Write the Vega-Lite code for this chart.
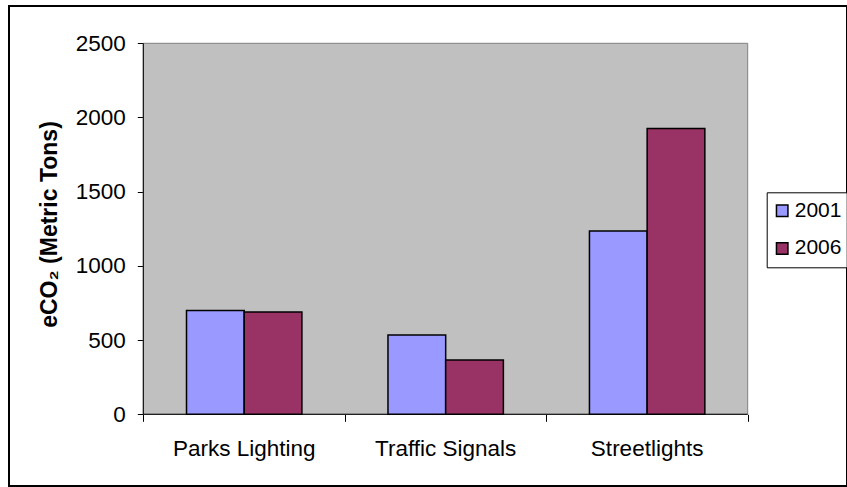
{
  "$schema": "https://vega.github.io/schema/vega-lite/v6.json",
  "width": 838,
  "height": 480,
  "autosize": {"type": "none"},
  "padding": {"left": 9, "top": 6, "right": 0, "bottom": 1},
  "background": "white",
  "config": {
    "view": {"stroke": "#000000", "strokeWidth": 2, "fill": "white"},
    "font": "Liberation Sans",
    "axis": {
      "grid": false,
      "domain": false,
      "labelFont": "Liberation Sans",
      "labelFontSize": 22.5,
      "labelColor": "#000000",
      "tickColor": "#000000",
      "tickWidth": 1,
      "titleFont": "Liberation Sans",
      "titleColor": "#000000"
    },
    "legend": {
      "labelFont": "Liberation Sans",
      "labelFontSize": 21,
      "labelColor": "#000000"
    }
  },
  "layer": [
    {
      "data": {"values": [{}]},
      "layer": [
        {
          "mark": {"type": "rect", "fill": "#C0C0C0", "stroke": "#808080", "strokeWidth": 1},
          "encoding": {
            "x": {
              "datum": 0,
              "type": "quantitative",
              "scale": {"domain": [-0.6666, 3.4929], "nice": false, "zero": false},
              "axis": {
                "orient": "bottom",
                "offset": -71.7,
                "values": [0, 1, 2, 3],
                "labels": false,
                "ticks": true,
                "tickSize": 7,
                "title": null
              }
            },
            "x2": {"datum": 3},
            "y": {
              "datum": 0,
              "type": "quantitative",
              "scale": {"domain": [-483.2, 2751.3], "nice": false, "zero": false}
            },
            "y2": {"datum": 2500}
          }
        },
        {
          "mark": {"type": "rule", "color": "#000000", "strokeWidth": 1},
          "encoding": {
            "x": {"datum": 0, "type": "quantitative"},
            "y": {"datum": 0, "type": "quantitative"},
            "y2": {"datum": 2500}
          }
        },
        {
          "mark": {"type": "rule", "color": "#000000", "strokeWidth": 1},
          "encoding": {
            "x": {"datum": 0, "type": "quantitative"},
            "x2": {"datum": 3},
            "y": {"datum": 0, "type": "quantitative"}
          }
        }
      ]
    },
    {
      "data": {
        "values": [
          {"category": "Parks Lighting", "year": "2001", "value": 700},
          {"category": "Parks Lighting", "year": "2006", "value": 690},
          {"category": "Traffic Signals", "year": "2001", "value": 535},
          {"category": "Traffic Signals", "year": "2006", "value": 366},
          {"category": "Streetlights", "year": "2001", "value": 1235},
          {"category": "Streetlights", "year": "2006", "value": 1925}
        ]
      },
      "mark": {"type": "bar", "stroke": "#000000", "strokeWidth": 1.5},
      "encoding": {
        "x": {
          "field": "category",
          "type": "nominal",
          "sort": ["Parks Lighting", "Traffic Signals", "Streetlights"],
          "scale": {"type": "band", "paddingInner": 0.4272, "paddingOuter": 0.7933, "align": 0.5553},
          "axis": {
            "orient": "bottom",
            "offset": -71.7,
            "ticks": false,
            "tickSize": 0,
            "labelPadding": 23,
            "labelAngle": 0,
            "title": null
          }
        },
        "xOffset": {"field": "year", "type": "nominal"},
        "y": {
          "field": "value",
          "type": "quantitative",
          "stack": null,
          "scale": {"domain": [-483.2, 2751.3], "nice": false, "zero": false},
          "axis": {
            "values": [0, 500, 1000, 1500, 2000, 2500],
            "format": "d",
            "offset": -134.3,
            "tickSize": 6,
            "labelPadding": 12,
            "title": "eCO₂ (Metric Tons)",
            "titleFontSize": 23,
            "titleFontWeight": "bold",
            "titleY": 218,
            "titlePadding": 14
          }
        },
        "color": {
          "field": "year",
          "type": "nominal",
          "scale": {"range": ["#9999FF", "#993366"]},
          "legend": {
            "orient": "none",
            "legendX": 757.7,
            "legendY": 186.3,
            "title": null,
            "strokeColor": "#000000",
            "fillColor": "#ffffff",
            "padding": 5,
            "symbolType": "square",
            "symbolSize": 132,
            "symbolStrokeColor": "#000000",
            "symbolStrokeWidth": 1.5,
            "symbolOpacity": 1,
            "clipHeight": 27,
            "rowPadding": 10.6,
            "labelOffset": 2
          }
        }
      }
    }
  ],
  "resolve": {"scale": {"x": "independent"}, "axis": {"x": "independent"}}
}
